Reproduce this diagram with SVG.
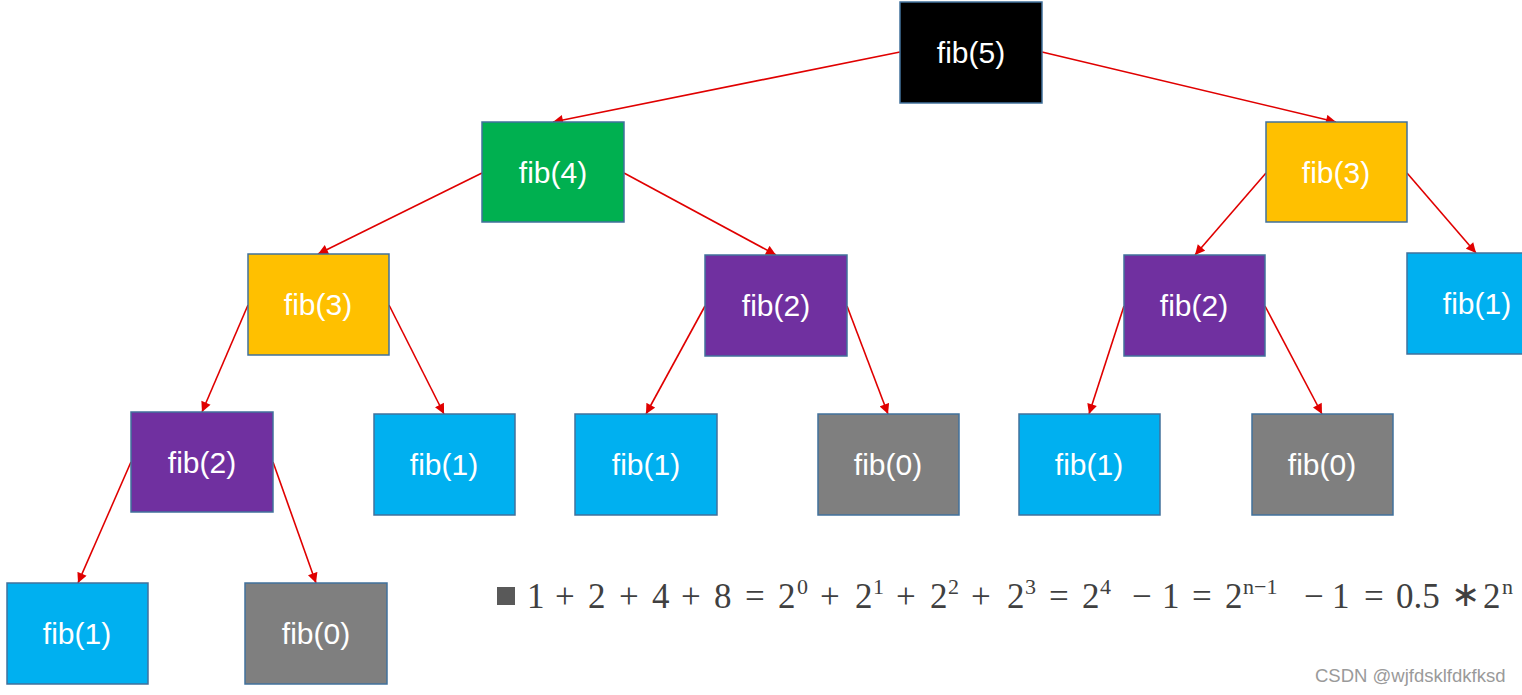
<svg xmlns="http://www.w3.org/2000/svg" width="1522" height="695" viewBox="0 0 1522 695">
<style>
.n rect{stroke:#41719C;stroke-width:1.5}
.n text{font-family:"Liberation Sans",Arial,sans-serif;font-size:30px;fill:#fff;text-anchor:middle;dominant-baseline:central}
.blk{fill:#000}.grn{fill:#00B050}.yel{fill:#FFC000}.pur{fill:#7030A0}.blu{fill:#00B0F0}.gry{fill:#7F7F7F}
#edges line{stroke:#E00000;stroke-width:1.6;marker-end:url(#ah)}
.f text{font-family:"Liberation Serif","Times New Roman",serif;font-size:35px;fill:#404040}
.f .s{font-size:22px}
</style>
<defs>
<marker id="ah" viewBox="0 0 10 10" refX="10" refY="5" markerWidth="11" markerHeight="10" markerUnits="userSpaceOnUse" orient="auto">
<path d="M0,0 L10,5 L0,10 z" fill="#E00000"/>
</marker>
</defs>
<rect width="1522" height="695" fill="#fff"/>
<g id="edges">
<line x1="900" y1="52" x2="553" y2="122"/>
<line x1="1042" y1="52" x2="1336" y2="122"/>
<line x1="482" y1="173" x2="318" y2="254"/>
<line x1="624" y1="173" x2="776" y2="255"/>
<line x1="1266" y1="173" x2="1195" y2="255"/>
<line x1="1407" y1="173" x2="1476" y2="253"/>
<line x1="248" y1="305" x2="202" y2="412"/>
<line x1="389" y1="305" x2="444" y2="414"/>
<line x1="705" y1="306" x2="646" y2="414"/>
<line x1="847" y1="306" x2="888" y2="414"/>
<line x1="1124" y1="306" x2="1089" y2="414"/>
<line x1="1265" y1="306" x2="1322" y2="414"/>
<line x1="131" y1="462" x2="78" y2="583"/>
<line x1="273" y1="462" x2="316" y2="583"/>
</g>
<g id="fib5" class="n"><rect class="blk" x="900" y="2" width="142" height="101"/><text x="971" y="52">fib(5)</text></g>
<g id="fib4" class="n"><rect class="grn" x="482" y="122" width="142" height="100"/><text x="553" y="172">fib(4)</text></g>
<g id="fib3r" class="n"><rect class="yel" x="1266" y="122" width="141" height="100"/><text x="1336" y="172">fib(3)</text></g>
<g id="fib3l" class="n"><rect class="yel" x="248" y="254" width="141" height="101"/><text x="318" y="304">fib(3)</text></g>
<g id="fib2m" class="n"><rect class="pur" x="705" y="255" width="142" height="101"/><text x="776" y="305">fib(2)</text></g>
<g id="fib2r" class="n"><rect class="pur" x="1124" y="255" width="141" height="101"/><text x="1194" y="305">fib(2)</text></g>
<g id="fib1rr" class="n"><rect class="blu" x="1407" y="253" width="130" height="101"/><text x="1477" y="303">fib(1)</text></g>
<g id="fib2l" class="n"><rect class="pur" x="131" y="412" width="142" height="100"/><text x="202" y="462">fib(2)</text></g>
<g id="fib1a" class="n"><rect class="blu" x="374" y="414" width="141" height="101"/><text x="444" y="464">fib(1)</text></g>
<g id="fib1b" class="n"><rect class="blu" x="575" y="414" width="142" height="101"/><text x="646" y="464">fib(1)</text></g>
<g id="fib0a" class="n"><rect class="gry" x="818" y="414" width="141" height="101"/><text x="888" y="464">fib(0)</text></g>
<g id="fib1c" class="n"><rect class="blu" x="1019" y="414" width="141" height="101"/><text x="1089" y="464">fib(1)</text></g>
<g id="fib0b" class="n"><rect class="gry" x="1252" y="414" width="141" height="101"/><text x="1322" y="464">fib(0)</text></g>
<g id="fib1d" class="n"><rect class="blu" x="7" y="583" width="141" height="101"/><text x="77" y="633">fib(1)</text></g>
<g id="fib0c" class="n"><rect class="gry" x="245" y="583" width="142" height="101"/><text x="316" y="633">fib(0)</text></g>
<g id="formula" class="f">
<rect x="497" y="587" width="18" height="18" fill="#595959"/>
<text y="608"><tspan x="527">1</tspan><tspan x="555">+</tspan><tspan x="588">2</tspan><tspan x="619">+</tspan><tspan x="652">4</tspan><tspan x="681">+</tspan><tspan x="714">8</tspan><tspan x="745">=</tspan><tspan x="778">2</tspan><tspan x="820">+</tspan><tspan x="855">2</tspan><tspan x="896">+</tspan><tspan x="930">2</tspan><tspan x="971">+</tspan><tspan x="1007">2</tspan><tspan x="1049">=</tspan><tspan x="1082">2</tspan><tspan x="1132">−</tspan><tspan x="1162">1</tspan><tspan x="1192">=</tspan><tspan x="1225">2</tspan><tspan x="1304">−</tspan><tspan x="1332">1</tspan><tspan x="1364">=</tspan><tspan x="1396">0.5</tspan><tspan x="1483">2</tspan></text>
<text y="606" x="1451" font-size="19">∗</text>
<text y="594" class="s"><tspan x="797">0</tspan><tspan x="873">1</tspan><tspan x="948">2</tspan><tspan x="1025">3</tspan><tspan x="1100">4</tspan><tspan x="1243">n−1</tspan><tspan x="1502">n</tspan></text>
</g>
<text x="1315" y="682" font-family="Liberation Sans,Arial,sans-serif" font-size="18.5" fill="#9a9a9a">CSDN @wjfdsklfdkfksd</text>
</svg>
